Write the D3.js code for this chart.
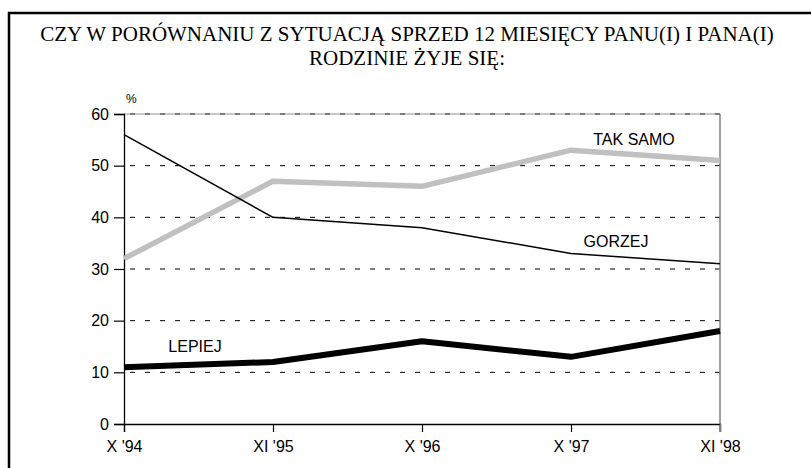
<!DOCTYPE html>
<html>
<head>
<meta charset="utf-8">
<script src="https://cdn.jsdelivr.net/npm/d3@7"></script>
<style>
  body { margin: 0; background: #fff; }
  svg text { font-family: "Liberation Sans", Arial, sans-serif; fill: #000; }
  .title { font-family: "Liberation Serif", "Times New Roman", serif; font-size: 21px; }
  .axis text { font-size: 16px; }
</style>
</head>
<body>
<svg id="chart" width="811" height="468"></svg>
<script>
// survey waves
var periods = ["X '94", "XI '95", "X '96", "X '97", "XI '98"];
var yTicks = [0, 10, 20, 30, 40, 50, 60];

// percentages per answer
var takSamo = [32, 47, 46, 53, 51];
var gorzej = [56, 40, 38, 33, 31];
var lepiej = [11, 12, 16, 13, 18];

var svg = d3.select("#chart");

// outer frame (bottom edge is cut off in the original)
svg.append("path")
  .attr("d", "M9,468 V13 H811")
  .attr("fill", "none")
  .attr("stroke", "#000")
  .attr("stroke-width", 2.5);

var titleLines = [
  "CZY W PORÓWNANIU Z SYTUACJĄ SPRZED 12 MIESIĘCY PANU(I) I PANA(I)",
  "RODZINIE ŻYJE SIĘ:"
];
svg.selectAll(".title")
  .data(titleLines)
  .enter().append("text")
  .attr("class", "title")
  .attr("x", 407)
  .attr("y", function(d, i) { return 41 + i * 24; })
  .attr("text-anchor", "middle")
  .text(function(d) { return d; });

var x = d3.scalePoint()
  .domain(periods)
  .range([124, 720]);

var y = d3.scaleLinear()
  .domain([0, 60])
  .range([424, 114]);

// dashed gridlines
svg.append("g")
  .selectAll("line")
  .data(yTicks.filter(function(d) { return d > 0; }))
  .enter().append("line")
  .attr("x1", x.range()[0])
  .attr("x2", x.range()[1])
  .attr("y1", function(d) { return y(d); })
  .attr("y2", function(d) { return y(d); })
  .attr("stroke", "#000")
  .attr("stroke-width", 1)
  .attr("stroke-dasharray", "5,10")
  .attr("stroke-dashoffset", -6);

// right side of plot frame
svg.append("line")
  .attr("x1", 720).attr("x2", 720)
  .attr("y1", y(60)).attr("y2", y(0) + 8)
  .attr("stroke", "#808080")
  .attr("stroke-width", 1.5);

// top of plot frame, faint
svg.append("line")
  .attr("x1", 124).attr("x2", 720)
  .attr("y1", y(60)).attr("y2", y(60))
  .attr("stroke", "#777")
  .attr("stroke-width", 0.8);

var yAxis = svg.append("g")
  .attr("class", "axis")
  .attr("transform", "translate(124,0)")
  .call(d3.axisLeft(y).tickValues(yTicks).tickSize(10).tickPadding(5).tickFormat(d3.format("d")));

var xAxis = svg.append("g")
  .attr("class", "axis")
  .attr("transform", "translate(0," + y(0) + ")")
  .call(d3.axisBottom(x).tickSize(8).tickPadding(9));

svg.selectAll(".axis .domain").attr("stroke", "#000").attr("stroke-width", 1.3);
svg.selectAll(".axis .tick line").attr("stroke", "#000").attr("stroke-width", 1.2);
svg.selectAll(".axis text").attr("fill", "#000");
// the last x tick belongs to the grey frame
xAxis.selectAll(".tick").filter(function(d) { return d === "XI '98"; })
  .select("line").attr("stroke", "#808080").attr("stroke-width", 1.5);

svg.append("text")
  .attr("x", 126)
  .attr("y", 103)
  .style("font-size", "12px")
  .text("%");

var line = d3.line()
  .x(function(d, i) { return x(periods[i]); })
  .y(function(d) { return y(d); });

var series = [
  { name: "TAK SAMO", values: takSamo, color: "#c0c0c0", width: 5.5, lx: 634, ly: 145 },
  { name: "GORZEJ", values: gorzej, color: "#000", width: 1.5, lx: 616, ly: 247 },
  { name: "LEPIEJ", values: lepiej, color: "#000", width: 6, lx: 195, ly: 352 }
];

svg.selectAll(".series")
  .data(series)
  .enter().append("path")
  .attr("class", "series")
  .attr("d", function(d) { return line(d.values); })
  .attr("fill", "none")
  .attr("stroke", function(d) { return d.color; })
  .attr("stroke-width", function(d) { return d.width; })
  .attr("stroke-linejoin", "round");

svg.selectAll(".series-label")
  .data(series)
  .enter().append("text")
  .attr("class", "series-label")
  .attr("x", function(d) { return d.lx; })
  .attr("y", function(d) { return d.ly; })
  .attr("text-anchor", "middle")
  .style("font-size", "16px")
  .text(function(d) { return d.name; });
</script>
</body>
</html>
